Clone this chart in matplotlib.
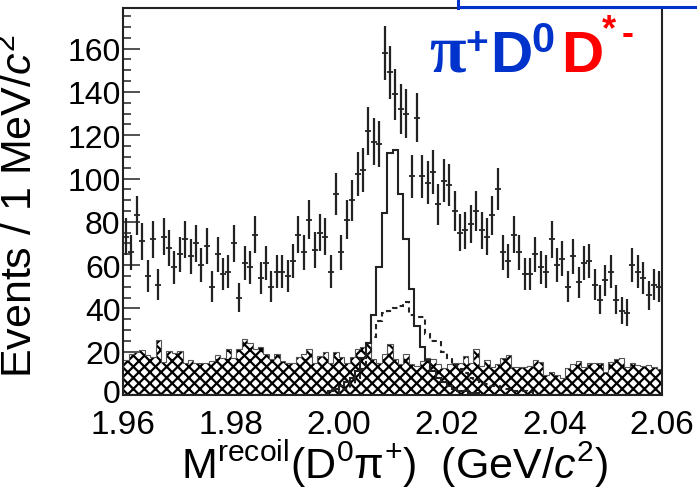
import numpy as np
import matplotlib
matplotlib.use("Agg")
import matplotlib.pyplot as plt
import matplotlib.transforms as mtransforms
from matplotlib.lines import Line2D
from matplotlib.ticker import MultipleLocator, FormatStrFormatter

plt.rcParams['font.family'] = ['Liberation Sans', 'DejaVu Sans']
plt.rcParams['mathtext.fontset'] = 'custom'
plt.rcParams['mathtext.rm'] = 'Liberation Sans'
plt.rcParams['mathtext.it'] = 'Liberation Sans:italic'
plt.rcParams['hatch.linewidth'] = 1.6

# binning: 100 bins of 1 MeV from 1.96 to 2.06 GeV
edges = np.linspace(1.96, 2.06, 101)
centers = 0.5 * (edges[:-1] + edges[1:])

# data points (events per bin)
counts = [73, 66, 83, 71, 55, 72, 51, 73, 68, 59,
          65, 72, 64, 70, 60, 69, 50, 65, 56, 57,
          70, 45, 61, 59, 74, 54, 61, 50, 57, 57,
          55, 62, 74, 66, 81, 67, 75, 73, 57, 93,
          66, 81, 90, 102, 104, 122, 117, 116, 158, 149,
          139, 132, 130, 101, 128, 101, 98, 103, 88, 99,
          97, 85, 75, 76, 79, 85, 76, 73, 83, 95,
          66, 62, 74, 66, 56, 56, 65, 59, 57, 72,
          60, 63, 50, 64, 52, 61, 62, 51, 44, 53,
          57, 44, 39, 38, 60, 57, 54, 46, 51, 50]

# hatched background
bkg = [16, 19, 20, 21, 18.5, 17.7, 25.5, 15.2, 20.4, 19.4,
       20.4, 14.8, 16, 14.8, 14.8, 14.8, 15.5, 18.5, 17, 21.3,
       17, 21.3, 26, 24, 21.3, 22, 19, 16.6, 19, 15.8,
       15, 15, 17.4, 19, 21.2, 15, 18, 19.7, 15, 19.7,
       17.4, 15, 17.4, 21.2, 22, 24.3, 16.6, 15, 19, 23.5,
       16.6, 14.3, 19, 14.3, 13.5, 15.8, 16.9, 16.6, 14.3, 12.3,
       14.3, 15, 15, 18, 15, 21.2, 13.5, 16.3, 12.8, 14.3,
       16.9, 18.5, 12.8, 12.8, 12.8, 13.5, 16.3, 15.4, 9.4, 10.5,
       9.2, 7.7, 12.3, 14.3, 15.5, 12.8, 15, 14.8, 15, 10.8,
       15.4, 16.6, 17, 12.8, 14.6, 13.8, 13.5, 13.8, 12.8, 12]

# solid histogram, nonzero from bin 38
solid_first = 38
solid_vals = [2, 3, 4, 6, 8, 11, 17, 24, 37, 59, 84, 112, 113, 93, 72, 49,
              32, 22, 16, 11, 8, 6, 4, 3, 2, 2, 1, 1]

# dashed histogram, nonzero from bin 40
dash_first = 40
dash_vals = [2, 3, 5, 8, 12, 19, 27, 34, 38, 39, 40, 41, 43, 37, 36, 36,
             28, 25, 25, 20, 17, 14, 12, 10, 8, 7, 6, 5, 4, 4, 3, 3, 2, 2, 2, 1.5]

solid = np.zeros(100)
solid[solid_first:solid_first + len(solid_vals)] = solid_vals
dashed = np.zeros(100)
dashed[dash_first:dash_first + len(dash_vals)] = dash_vals

W, H = 697, 489
blue = '#0033cc'
red = '#ff0000'
ink = '#222222'

fig = plt.figure(figsize=(W / 100, H / 100), dpi=100)
ax = fig.add_axes([123.3 / W, 1 - 396 / H, 538.7 / W, 387.5 / H])
ax.set_axisbelow(True)

ax.stairs(bkg, edges, fill=True, facecolor='white', edgecolor='black',
          hatch='xxx', linewidth=0)
ax.stairs(bkg, edges, color='#555555', linewidth=0.8)
ax.stairs(solid, edges, color=ink, linewidth=1.5)
ax.stairs(dashed, edges, color=ink, linewidth=1.5, linestyle=(0, (2.5, 2)))

counts = np.array(counts, dtype=float)
ax.errorbar(centers, counts, yerr=np.sqrt(counts), fmt='_', ms=4, mew=1.3,
            color=ink, ecolor=ink, elinewidth=1.6, capsize=0)

ax.set_xlim(1.96, 2.06)
ax.set_ylim(0, 179)
ax.set_xticks(np.arange(1.96, 2.0601, 0.02))
ax.xaxis.set_major_formatter(FormatStrFormatter('%.2f'))
ax.xaxis.set_minor_locator(MultipleLocator(0.005))
ax.set_yticks(np.arange(0, 161, 20))
ax.yaxis.set_minor_locator(MultipleLocator(5))
ax.tick_params(which='both', direction='in', top=False, right=False,
               labelsize=23, width=1.1, color=ink)
ax.tick_params(which='major', length=12)
ax.tick_params(which='minor', length=6)
ax.tick_params(axis='y', pad=2)
ax.tick_params(axis='x', pad=10, labelsize=24)
for sp in ax.spines.values():
    sp.set_linewidth(1.5)
    sp.set_color(ink)

# lift the "0" label a touch so it clears "1.96"
zero_lbl = ax.yaxis.get_major_ticks()[0].label1
zero_lbl.set_transform(zero_lbl.get_transform() +
                       mtransforms.ScaledTranslation(0, 4 / 100, fig.dpi_scale_trans))

ax.set_ylabel('Events / 1 MeV/$c^{2}$', fontsize=31)
ax.yaxis.set_label_coords(-0.153, 0.49)
ax.set_xlabel(r'M$^{\mathrm{recoil}}$(D$^{0}$π$^{+}$)  (GeV/$c^{2}$)', fontsize=31)
ax.xaxis.set_label_coords(0.504, -0.11)


def ptext(x, y, s, color, size, **kw):
    fig.text(x / W, 1 - y / H, s, color=color, fontsize=size,
             fontweight='bold', va='baseline', ha='left', **kw)


ptext(429, 72, 'π', blue, 48, family=['Liberation Serif', 'DejaVu Serif'])
ptext(465, 54, '+', blue, 28)
ptext(490, 72, 'D', blue, 42)
ptext(531, 52, '0', blue, 30)
ptext(561, 72, 'D', red, 42)
ptext(602, 40, '*', red, 26)
ptext(622, 44, '-', red, 26)

fig.add_artist(Line2D([458 / W, 1], [1 - 8 / H, 1 - 8 / H], color=blue,
                      lw=2.2, transform=fig.transFigure))
fig.add_artist(Line2D([458 / W, 458 / W], [1 - 9 / H, 1], color=blue,
                      lw=2.2, transform=fig.transFigure))

fig.savefig('out.png', dpi=100)
